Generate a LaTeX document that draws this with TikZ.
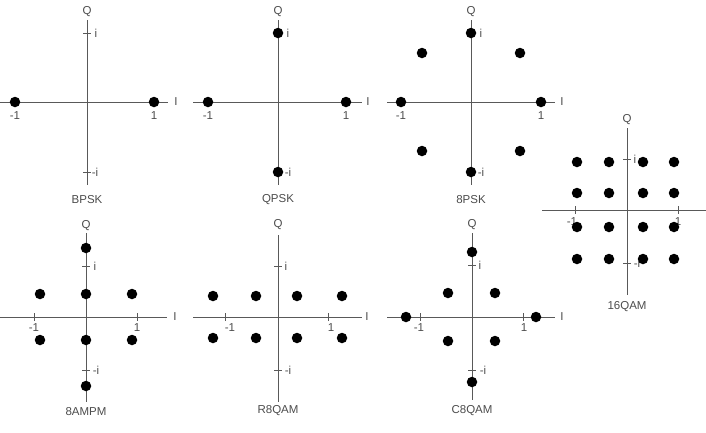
\documentclass[tikz,border=0pt]{standalone}
\usepackage{fontspec}
\setmainfont{Liberation Sans}
\begin{document}
\begin{tikzpicture}[x=1pt,y=-1pt,
    axis/.style={draw=black!65, line width=0.9pt},
    pt/.style={circle, fill=black, inner sep=0pt, minimum size=10.5pt},
    lbl/.style={text=black!70, font=\fontsize{11.5}{13}\selectfont, inner sep=0pt}]
    \useasboundingbox (0,0) rectangle (706,432);

    % BPSK
    \begin{scope}[shift={(87,102)}]
        \draw[axis] (0,-82) -- (0,83);
        \draw[axis] (-87,0) -- (81,0);
        \draw[axis] (-4,-69) -- (4,-69);
        \draw[axis] (-4,70) -- (4,70);
        \node[lbl] (bq) at (0,-90) {Q};
        \node[lbl] (bi) at (89,0) {I};
        \node[lbl] (bj) at (9,-69) {i};
        \node[lbl] (bmj) at (8,70) {-i};
        \node[lbl] (bm1) at (-72,14) {-1};
        \node[lbl] (bp1) at (67,14) {1};
        \node[lbl] (bname) at (0,98) {BPSK};
        \node[pt] (b1) at (-72,0) {};
        \node[pt] (b2) at (67,0) {};
    \end{scope}

    % QPSK
    \begin{scope}[shift={(278,102)}]
        \draw[axis] (0,-82) -- (0,83);
        \draw[axis] (-85,0) -- (84,0);
        \node[lbl] (qq) at (0,-90) {Q};
        \node[lbl] (qi) at (90,0) {I};
        \node[lbl] (qj) at (10,-69) {i};
        \node[lbl] (qmj) at (10,70) {-i};
        \node[lbl] (qm1) at (-70,14) {-1};
        \node[lbl] (qp1) at (68,14) {1};
        \node[lbl] (qname) at (0,98) {QPSK};
        \node[pt] (q1) at (-70,0) {};
        \node[pt] (q2) at (68,0) {};
        \node[pt] (q3) at (0,-69) {};
        \node[pt] (q4) at (0,70) {};
    \end{scope}

    % 8PSK
    \begin{scope}[shift={(471,102)}]
        \draw[axis] (0,-82) -- (0,83);
        \draw[axis] (-84,0) -- (84,0);
        \node[lbl] (pq) at (0,-90) {Q};
        \node[lbl] (pi) at (91,0) {I};
        \node[lbl] (pj) at (10,-69) {i};
        \node[lbl] (pmj) at (10,70) {-i};
        \node[lbl] (pm1) at (-70,14) {-1};
        \node[lbl] (pp1) at (70,14) {1};
        \node[lbl] (pname) at (0,98) {8PSK};
        \node[pt] (p1) at (-70,0) {};
        \node[pt] (p2) at (70,0) {};
        \node[pt] (p3) at (0,-69) {};
        \node[pt] (p4) at (0,70) {};
        \node[pt] (p5) at (-49,-49) {};
        \node[pt] (p6) at (49,-49) {};
        \node[pt] (p7) at (-49,49) {};
        \node[pt] (p8) at (49,49) {};
    \end{scope}

    % 16QAM
    \begin{scope}[shift={(627,210)}]
        \draw[axis] (0,-82) -- (0,85);
        \draw[axis] (-85,0) -- (79,0);
        \draw[axis] (-52,-4) -- (-52,4);
        \draw[axis] (51,-4) -- (51,4);
        \draw[axis] (-4,-51) -- (4,-51);
        \draw[axis] (-4,53) -- (4,53);
        \node[lbl] (xq) at (0,-90) {Q};
        \node[lbl] (xj) at (8,-51) {i};
        \node[lbl] (xmj) at (10,53) {-i};
        \node[lbl] (xm1) at (-55,12) {-1};
        \node[lbl] (xp1) at (51,12) {1};
        \node[lbl] (xname) at (0,97) {16QAM};
        \node[pt] (x11) at (-50,-48) {};
        \node[pt] (x12) at (-18,-48) {};
        \node[pt] (x13) at (16,-48) {};
        \node[pt] (x14) at (47,-48) {};
        \node[pt] (x21) at (-50,-17) {};
        \node[pt] (x22) at (-18,-17) {};
        \node[pt] (x23) at (16,-17) {};
        \node[pt] (x24) at (47,-17) {};
        \node[pt] (x31) at (-50,17) {};
        \node[pt] (x32) at (-18,17) {};
        \node[pt] (x33) at (16,17) {};
        \node[pt] (x34) at (47,17) {};
        \node[pt] (x41) at (-50,49) {};
        \node[pt] (x42) at (-18,49) {};
        \node[pt] (x43) at (16,49) {};
        \node[pt] (x44) at (47,49) {};
    \end{scope}

    % 8AMPM
    \begin{scope}[shift={(86,317)}]
        \draw[axis] (0,-84) -- (0,85);
        \draw[axis] (-86,0) -- (81,0);
        \draw[axis] (-52,-4) -- (-52,4);
        \draw[axis] (51,-4) -- (51,4);
        \draw[axis] (-4,-51) -- (4,-51);
        \draw[axis] (-4,53) -- (4,53);
        \node[lbl] (aq) at (0,-91) {Q};
        \node[lbl] (ai) at (89,0) {I};
        \node[lbl] (aj) at (9,-51) {i};
        \node[lbl] (amj) at (10,53) {-i};
        \node[lbl] (am1) at (-52,11) {-1};
        \node[lbl] (ap1) at (51,11) {1};
        \node[lbl] (aname) at (0,95) {8AMPM};
        \node[pt] (a1) at (0,-69) {};
        \node[pt] (a2) at (0,-23) {};
        \node[pt] (a3) at (0,23) {};
        \node[pt] (a4) at (0,69) {};
        \node[pt] (a5) at (-46,-23) {};
        \node[pt] (a6) at (46,-23) {};
        \node[pt] (a7) at (-46,23) {};
        \node[pt] (a8) at (46,23) {};
    \end{scope}

    % R8QAM
    \begin{scope}[shift={(278,317)}]
        \draw[axis] (0,-82) -- (0,85);
        \draw[axis] (-85,0) -- (84,0);
        \draw[axis] (-53,-4) -- (-53,4);
        \draw[axis] (50,-4) -- (50,4);
        \draw[axis] (-4,-51) -- (4,-51);
        \draw[axis] (-4,53) -- (4,53);
        \node[lbl] (rq) at (0,-92) {Q};
        \node[lbl] (ri) at (89,0) {I};
        \node[lbl] (rj) at (8,-51) {i};
        \node[lbl] (rmj) at (10,53) {-i};
        \node[lbl] (rm1) at (-48,11) {-1};
        \node[lbl] (rp1) at (53,11) {1};
        \node[lbl] (rname) at (0,94) {R8QAM};
        \node[pt] (r1) at (-65,-21) {};
        \node[pt] (r2) at (-22,-21) {};
        \node[pt] (r3) at (19,-21) {};
        \node[pt] (r4) at (64,-21) {};
        \node[pt] (r5) at (-65,21) {};
        \node[pt] (r6) at (-22,21) {};
        \node[pt] (r7) at (19,21) {};
        \node[pt] (r8) at (64,21) {};
    \end{scope}

    % C8QAM
    \begin{scope}[shift={(472,317)}]
        \draw[axis] (0,-84) -- (0,83);
        \draw[axis] (-85,0) -- (83,0);
        \draw[axis] (-52,-4) -- (-52,4);
        \draw[axis] (51,-4) -- (51,4);
        \draw[axis] (-4,-52) -- (4,-52);
        \draw[axis] (-4,53) -- (4,53);
        \node[lbl] (cq) at (0,-92) {Q};
        \node[lbl] (ci) at (90,0) {I};
        \node[lbl] (cj) at (8,-52) {i};
        \node[lbl] (cmj) at (11,53) {-i};
        \node[lbl] (cm1) at (-53,11) {-1};
        \node[lbl] (cp1) at (52,11) {1};
        \node[lbl] (cname) at (0,94) {C8QAM};
        \node[pt] (c1) at (-66,0) {};
        \node[pt] (c2) at (64,0) {};
        \node[pt] (c3) at (0,-65) {};
        \node[pt] (c4) at (0,65) {};
        \node[pt] (c5) at (-24,-24) {};
        \node[pt] (c6) at (23,-24) {};
        \node[pt] (c7) at (-24,24) {};
        \node[pt] (c8) at (23,24) {};
    \end{scope}
\end{tikzpicture}
\end{document}
